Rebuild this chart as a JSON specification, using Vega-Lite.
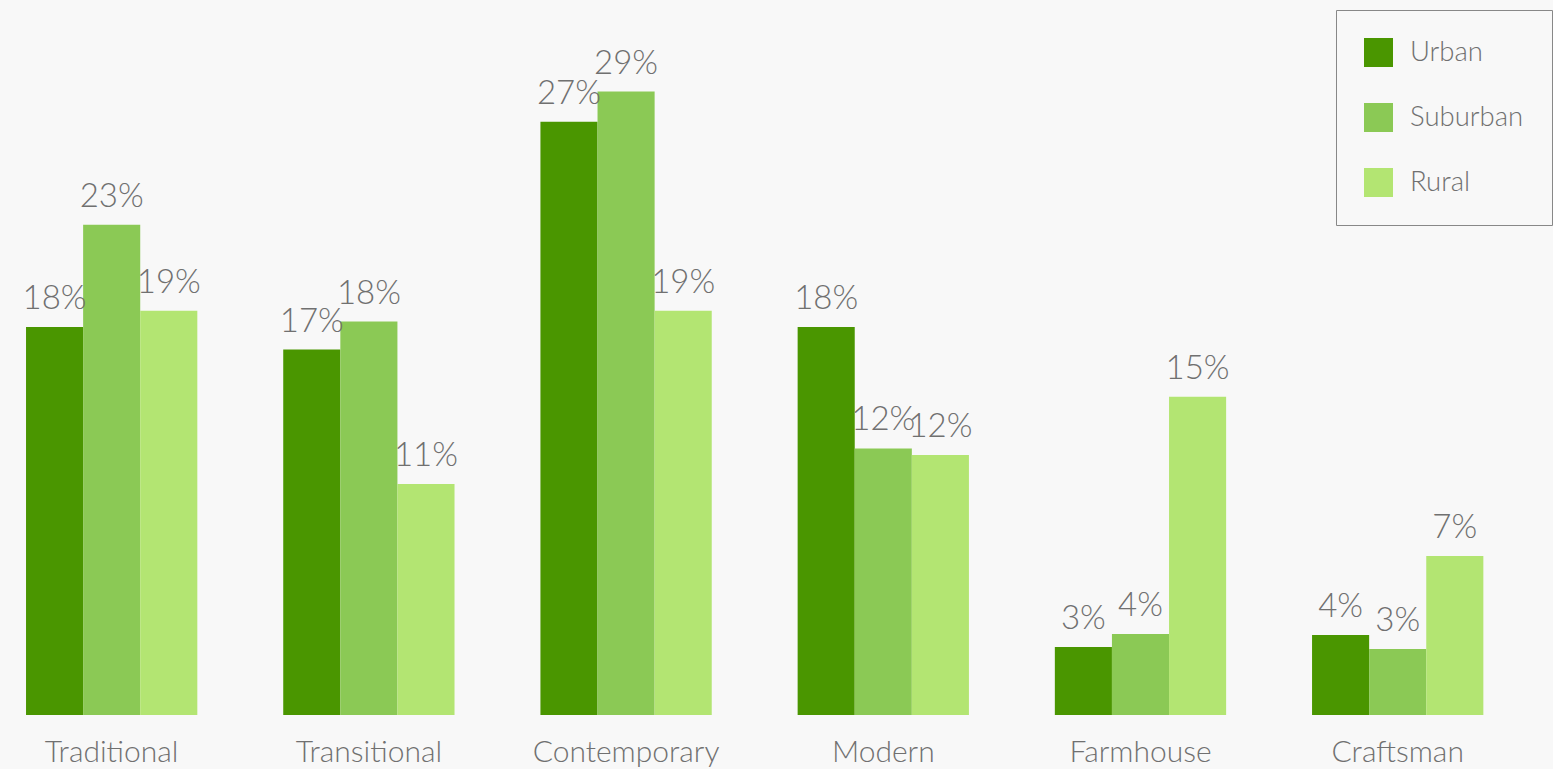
{
  "$schema": "https://vega.github.io/schema/vega-lite/v6.json",
  "width": 1553,
  "height": 715,
  "autosize": {"type": "none"},
  "padding": {"left": 0, "top": 0, "right": 0, "bottom": 54},
  "background": "#f8f8f8",
  "config": {
    "view": {"stroke": null},
    "font": "Lato"
  },
  "data": {
    "values": [
      {"style": "Traditional", "area": "Urban", "value": 18.05, "label": "18%"},
      {"style": "Traditional", "area": "Suburban", "value": 22.8, "label": "23%"},
      {"style": "Traditional", "area": "Rural", "value": 18.8, "label": "19%"},
      {"style": "Transitional", "area": "Urban", "value": 17.0, "label": "17%"},
      {"style": "Transitional", "area": "Suburban", "value": 18.3, "label": "18%"},
      {"style": "Transitional", "area": "Rural", "value": 10.75, "label": "11%"},
      {"style": "Contemporary", "area": "Urban", "value": 27.6, "label": "27%"},
      {"style": "Contemporary", "area": "Suburban", "value": 29.0, "label": "29%"},
      {"style": "Contemporary", "area": "Rural", "value": 18.8, "label": "19%"},
      {"style": "Modern", "area": "Urban", "value": 18.05, "label": "18%"},
      {"style": "Modern", "area": "Suburban", "value": 12.4, "label": "12%"},
      {"style": "Modern", "area": "Rural", "value": 12.1, "label": "12%"},
      {"style": "Farmhouse", "area": "Urban", "value": 3.16, "label": "3%"},
      {"style": "Farmhouse", "area": "Suburban", "value": 3.77, "label": "4%"},
      {"style": "Farmhouse", "area": "Rural", "value": 14.8, "label": "15%"},
      {"style": "Craftsman", "area": "Urban", "value": 3.72, "label": "4%"},
      {"style": "Craftsman", "area": "Suburban", "value": 3.07, "label": "3%"},
      {"style": "Craftsman", "area": "Rural", "value": 7.4, "label": "7%"}
    ]
  },
  "encoding": {
    "x": {
      "field": "style",
      "type": "nominal",
      "sort": null,
      "scale": {"paddingInner": 0.334, "paddingOuter": 0.186, "align": 0.272},
      "axis": {
        "title": null,
        "domain": false,
        "ticks": false,
        "labelAngle": 0,
        "labelFontSize": 30,
        "labelFont": "Lato",
        "labelFontWeight": 300,
        "labelColor": "#707070",
        "labelPadding": 37,
        "labelBaseline": "middle",
        "labelLimit": 500,
        "labelOverlap": false
      }
    },
    "xOffset": {
      "field": "area",
      "type": "nominal",
      "sort": ["Urban", "Suburban", "Rural"],
      "scale": {"paddingInner": 0, "paddingOuter": 0}
    },
    "y": {
      "field": "value",
      "type": "quantitative",
      "scale": {"domain": [0, 33.26], "nice": false, "zero": true},
      "axis": null
    }
  },
  "layer": [
    {
      "mark": {"type": "bar"},
      "encoding": {
        "color": {
          "field": "area",
          "type": "nominal",
          "sort": ["Urban", "Suburban", "Rural"],
          "scale": {
            "domain": ["Urban", "Suburban", "Rural"],
            "range": ["#4a9600", "#8bc955", "#b3e572"]
          },
          "legend": {
            "title": null,
            "orient": "none",
            "legendX": 1336,
            "legendY": 10,
            "direction": "vertical",
            "symbolType": "square",
            "symbolSize": 841,
            "symbolStrokeWidth": 0,
            "symbolOpacity": 1,
            "labelFontSize": 27.5,
            "labelFont": "Lato",
            "labelFontWeight": 300,
            "labelColor": "#707070",
            "labelOffset": 17,
            "rowPadding": 36,
            "padding": 28,
            "strokeColor": "#888888",
            "fillColor": "#f8f8f8",
            "labelLimit": 300
          }
        }
      }
    },
    {
      "mark": {
        "type": "text",
        "baseline": "bottom",
        "dy": -11,
        "fontSize": 33,
        "font": "Lato",
        "fontWeight": 300,
        "color": "#707070"
      },
      "encoding": {
        "text": {"field": "label"}
      }
    }
  ]
}
